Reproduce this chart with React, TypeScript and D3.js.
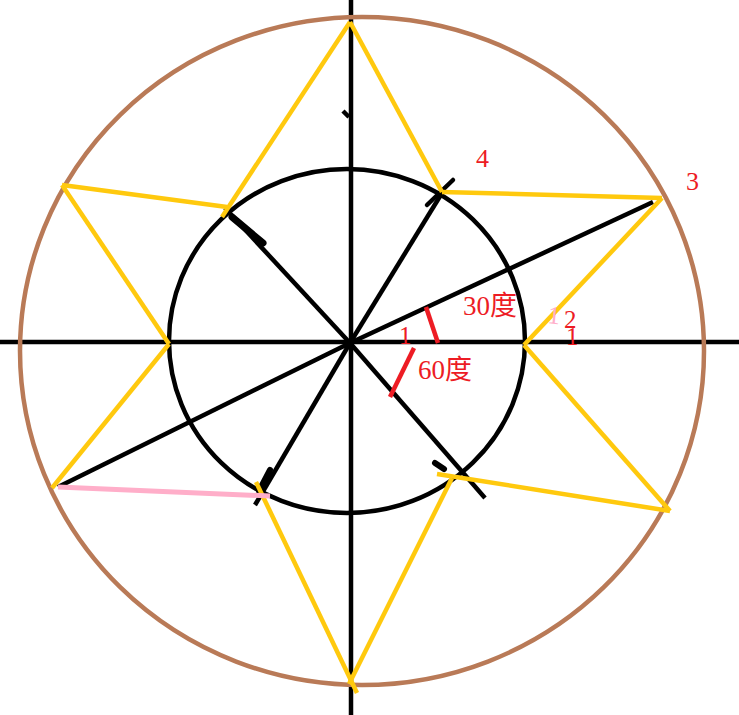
import React, { useRef, useEffect } from 'react';
import * as d3 from 'd3';

type Pt = [number, number];

// geometry in units relative to the center, y pointing up
const axisOffset: Pt = [1, 1];
const outerEllipse = { cx: 12, cy: -8, rx: 342, ry: 334 };
const innerEllipse = { cx: -3, cy: 2, rx: 178, ry: 172 };

const yellowLines: [Pt, Pt][] = [
  [[0, 321], [92, 151]],
  [[92, 151], [312, 145]],
  [[312, 145], [174, -2]],
  [[174, -2], [320, -168]],
  [[87, -131], [320, -168]],
  [[102, -135], [-1, -341]],
  [[7, -350], [-94, -139]],
  [[-298, -145], [-181, -1]],
  [[-181, -1], [-288, 158]],
  [[-288, 158], [-123, 136]],
  [[-128, 126], [0, 321]],
];

const pinkLines: [Pt, Pt][] = [[[-292, -144], [-80, -153]]];

const blackRays: [Pt, Pt][] = [
  [[0, 0], [92, 150]],
  [[0, 0], [-125, 135]],
  [[0, 0], [135, -155]],
  [[0, 0], [-95, -162]],
  [[-292, -144], [0, 0]],
  [[0, 0], [303, 141]],
  [[-7, 232], [-1, 226]],
];

const arrowTicks: [Pt, Pt, number][] = [
  [[103, 163], [77, 138], 4.5],
  [[-118, 126], [-87, 100], 7],
  [[85, -120], [94, -126], 6],
  [[-80, -127], [-91, -148], 6],
];

const redMarks: [Pt, Pt][] = [
  [[76, 36], [88, 0]],
  [[64, -5], [40, -54]],
];

const labels: { text: string; at: Pt; size: number; color: string; rotate?: number }[] = [
  { text: '30度', at: [113, 28], size: 27, color: '#ed1c24' },
  { text: '60度', at: [68, -36], size: 27, color: '#ed1c24' },
  { text: '1', at: [49, -1], size: 25, color: '#ed1c24' },
  { text: '1', at: [197, 20], size: 25, color: '#ffaec9', rotate: 6 },
  { text: '2', at: [214, 15], size: 25, color: '#ed1c24' },
  { text: '1', at: [216, -2], size: 25, color: '#ed1c24' },
  { text: '4', at: [126, 176], size: 26, color: '#ed1c24' },
  { text: '3', at: [336, 153], size: 26, color: '#ed1c24' },
];

const App: React.FC = () => {
  const svgRef = useRef<SVGSVGElement>(null);
  const width = 739;
  const height = 715;

  useEffect(() => {
    if (!svgRef.current) return;
    d3.select(svgRef.current).selectAll('*').remove();

    const svg = d3.select(svgRef.current);
    const x = d3.scaleLinear().domain([-350, 389]).range([0, width]);
    const y = d3.scaleLinear().domain([343, -372]).range([0, height]);

    svg.append('rect').attr('width', width).attr('height', height).attr('fill', '#fff');

    const drawSeg = (seg: [Pt, Pt], color: string, w: number) =>
      svg
        .append('line')
        .attr('x1', x(seg[0][0]))
        .attr('y1', y(seg[0][1]))
        .attr('x2', x(seg[1][0]))
        .attr('y2', y(seg[1][1]))
        .attr('stroke', color)
        .attr('stroke-width', w);

    // Axes
    svg
      .append('line')
      .attr('x1', 0)
      .attr('x2', width)
      .attr('y1', y(axisOffset[1]))
      .attr('y2', y(axisOffset[1]))
      .attr('stroke', '#000')
      .attr('stroke-width', 4.5);
    svg
      .append('line')
      .attr('x1', x(axisOffset[0]))
      .attr('x2', x(axisOffset[0]))
      .attr('y1', 0)
      .attr('y2', height)
      .attr('stroke', '#000')
      .attr('stroke-width', 4.5);

    // Circles
    const ellipse = (e: typeof outerEllipse, color: string) =>
      svg
        .append('ellipse')
        .attr('cx', x(e.cx))
        .attr('cy', y(e.cy))
        .attr('rx', x(e.rx) - x(0))
        .attr('ry', y(0) - y(e.ry))
        .attr('fill', 'none')
        .attr('stroke', color)
        .attr('stroke-width', 4.5);
    ellipse(outerEllipse, '#b97a57');
    ellipse(innerEllipse, '#000');

    // Black rays and arrow marks
    blackRays.forEach(s => drawSeg(s, '#000', 4.5));
    arrowTicks.forEach(([a, b, w]) => drawSeg([a, b], '#000', w).attr('stroke-linecap', 'round'));

    // Star
    yellowLines.forEach(s => drawSeg(s, '#ffc90e', 4.5));
    pinkLines.forEach(s => drawSeg(s, '#ffaec9', 5));

    // Angle marks
    redMarks.forEach(s => drawSeg(s, '#ed1c24', 4.5));

    // Labels
    labels.forEach(l => {
      const t = svg
        .append('text')
        .attr('x', x(l.at[0]))
        .attr('y', y(l.at[1]))
        .attr('fill', l.color)
        .attr('font-size', `${l.size}px`)
        .attr('font-family', '"Liberation Serif", "Noto Sans CJK SC", serif')
        .text(l.text);
      if (l.rotate) t.attr('transform', `rotate(${l.rotate}, ${x(l.at[0])}, ${y(l.at[1])})`);
    });
  }, []);

  return (
    <div style={{ position: 'absolute', left: 0, top: 0 }}>
      <svg ref={svgRef} width={width} height={height} style={{ display: 'block' }}></svg>
    </div>
  );
};

export default App;
